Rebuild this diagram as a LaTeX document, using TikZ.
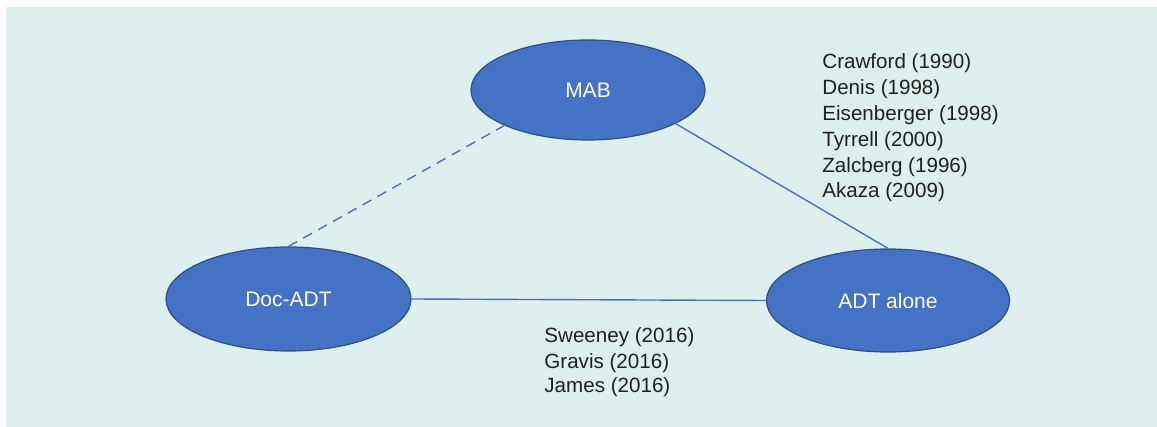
\documentclass[tikz,border=0pt]{standalone}
\usepackage{fontspec}
\setmainfont{Liberation Sans}
\usetikzlibrary{shapes.geometric}

\definecolor{bgteal}{HTML}{DDF0EE}
\definecolor{ovalblue}{HTML}{4472C4}
\definecolor{ovaledge}{HTML}{2F4F86}
\definecolor{linkblue}{HTML}{4472C4}
\definecolor{refgray}{HTML}{231F20}

\tikzset{
  oval/.style={ellipse, draw=ovaledge, line width=0.6pt, fill=ovalblue, text=white,
    inner sep=0pt, font=\fontsize{10.5}{12}\selectfont},
  link/.style={draw=linkblue, line width=0.7pt},
  refs/.style={anchor=base west, align=left, inner sep=0pt, text=refgray}
}

\begin{document}
\begin{tikzpicture}[x=0.5pt,y=-0.5pt]

        \useasboundingbox (0,0) rectangle (1157,427);
        \fill[bgteal] (6,7) rectangle (1157,427);

        \node[oval, minimum width=117pt, minimum height=50pt] (mab) at (588,90) {MAB};
        \node[oval, minimum width=122.5pt, minimum height=52pt] (doc) at (288.5,299) {Doc-ADT};
        \node[oval, minimum width=121.5pt, minimum height=51.5pt] (adt) at (888,300.5) {ADT alone};

        \draw[link] (mab.-21) -- (adt.north);
        \draw[link] (doc.east) -- (adt.west);
        \draw[link, dash pattern=on 5pt off 3.5pt] (doc.north) -- (mab.-157);

        \node[refs, font=\fontsize{10.3}{12.9}\selectfont] (mabrefs) at (822,198)
          {Crawford (1990)\\Denis (1998)\\Eisenberger (1998)\\Tyrrell (2000)\\Zalcberg (1996)\\Akaza (2009)};
        \node[refs, font=\fontsize{10.3}{12.5}\selectfont] (docrefs) at (544,393)
          {Sweeney (2016)\\Gravis (2016)\\James (2016)};
\end{tikzpicture}
\end{document}
